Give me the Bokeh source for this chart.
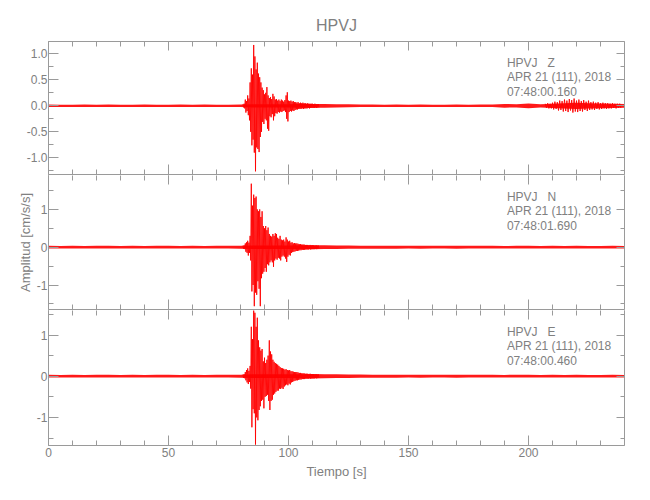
from bokeh.plotting import figure
from bokeh.layouts import column
from bokeh.models import (Range1d, LinearAxis, SingleIntervalTicker, Label,
                          PrintfTickFormatter, BasicTickFormatter)
from bokeh.embed import file_html
from bokeh.resources import INLINE

# ---------------- data ----------------
station = "HPVJ"
components = ["Z", "N", "E"]
date_text = "APR 21 (111), 2018"
start_times = ["07:48:00.160", "07:48:01.690", "07:48:00.460"]
x_axis_label = "Tiempo [s]"
y_axis_label = "Amplitud [cm/s/s]"

# background noise half-width, every 5 s from 0 to 240 s
noise_t = [0, 5, 10, 15, 20, 25, 30, 35, 40, 45, 50, 55, 60, 65, 70, 75, 80, 85, 90, 95,
           100, 105, 110, 115, 120, 125, 130, 135, 140, 145, 150, 155, 160, 165, 170, 175,
           180, 185, 190, 195, 200, 205, 210, 215, 220, 225, 230, 235, 240]
z_noise = [0.025, 0.022, 0.022, 0.025, 0.022, 0.025, 0.022, 0.022, 0.025, 0.022,
           0.022, 0.025, 0.022, 0.025, 0.022, 0.022, 0.025, 0.03, 0.03, 0.03,
           0.03, 0.035, 0.035, 0.035, 0.03, 0.028, 0.025, 0.025, 0.022, 0.025,
           0.022, 0.025, 0.022, 0.022, 0.025, 0.022, 0.025, 0.025, 0.035, 0.03,
           0.045, 0.03, 0.04, 0.05, 0.06, 0.05, 0.045, 0.04, 0.035]
n_noise = [0.036, 0.034, 0.036, 0.034, 0.036, 0.036, 0.034, 0.036, 0.034, 0.036,
           0.036, 0.034, 0.036, 0.034, 0.036, 0.036, 0.038, 0.045, 0.045, 0.045,
           0.045, 0.05, 0.055, 0.05, 0.045, 0.042, 0.04, 0.04, 0.038, 0.038,
           0.036, 0.038, 0.036, 0.036, 0.038, 0.036, 0.036, 0.036, 0.034, 0.036,
           0.036, 0.034, 0.036, 0.034, 0.036, 0.034, 0.034, 0.036, 0.034]
e_noise = [0.034, 0.032, 0.034, 0.032, 0.034, 0.034, 0.032, 0.034, 0.032, 0.034,
           0.034, 0.032, 0.034, 0.032, 0.034, 0.034, 0.036, 0.045, 0.045, 0.045,
           0.045, 0.05, 0.055, 0.05, 0.045, 0.042, 0.04, 0.038, 0.036, 0.036,
           0.034, 0.036, 0.034, 0.034, 0.036, 0.034, 0.034, 0.034, 0.032, 0.034,
           0.034, 0.032, 0.034, 0.032, 0.034, 0.032, 0.032, 0.034, 0.032]

# event window: extremes every 0.5 s
event_t = [81.0, 81.5, 82.0, 82.5, 83.0, 83.5, 84.0, 84.5, 85.0, 85.5,
           86.0, 86.5, 87.0, 87.5, 88.0, 88.5, 89.0, 89.5, 90.0, 90.5,
           91.0, 91.5, 92.0, 92.5, 93.0, 93.5, 94.0, 94.5, 95.0, 95.5,
           96.0, 96.5, 97.0, 97.5, 98.0, 98.5, 99.0, 99.5, 100.0, 100.5,
           101.0, 101.5, 102.0, 102.5, 103.0, 103.5, 104.0, 104.5, 105.0, 105.5,
           106.0, 106.5, 107.0, 107.5, 108.0, 108.5, 109.0, 109.5, 110.0, 110.5,
           111.0, 111.5, 112.0, 112.5]
z_max = [0.03, 0.04, 0.12, 0.09, 0.2, 0.14, 0.45, 0.72, 0.6, 1.17,
         0.95, 0.7, 0.83, 0.62, 0.55, 0.45, 0.35, 0.3, 0.22, 0.25,
         0.36, 0.2, 0.15, 0.17, 0.13, 0.23, 0.18, 0.12, 0.13, 0.1,
         0.12, 0.09, 0.12, 0.1, 0.08, 0.11, 0.2, 0.26, 0.1, 0.09,
         0.1, 0.08, 0.09, 0.07, 0.07, 0.06, 0.07, 0.05, 0.06, 0.05,
         0.06, 0.05, 0.05, 0.04, 0.05, 0.04, 0.04, 0.04, 0.04, 0.03,
         0.04, 0.03, 0.03, 0.03]
z_min = [-0.03, -0.05, -0.13, -0.1, -0.18, -0.28, -0.5, -0.76, -0.65, -0.9,
         -1.26, -0.8, -0.83, -0.89, -0.6, -0.5, -0.31, -0.35, -0.25, -0.28,
         -0.44, -0.48, -0.2, -0.22, -0.16, -0.28, -0.2, -0.14, -0.15, -0.12,
         -0.13, -0.11, -0.12, -0.1, -0.09, -0.12, -0.25, -0.3, -0.12, -0.1,
         -0.11, -0.09, -0.1, -0.08, -0.07, -0.07, -0.06, -0.06, -0.06, -0.05,
         -0.06, -0.05, -0.05, -0.05, -0.04, -0.05, -0.04, -0.04, -0.04, -0.04,
         -0.03, -0.04, -0.03, -0.03]
n_max = [0.04, 0.05, 0.1, 0.13, 0.17, 0.12, 0.3, 1.68, 1.1, 1.39,
         1.3, 1.34, 1.0, 0.95, 1.0, 0.8, 0.95, 0.56, 0.5, 0.56,
         0.45, 0.52, 0.35, 0.3, 0.28, 0.35, 0.3, 0.37, 0.35, 0.25,
         0.22, 0.3, 0.2, 0.18, 0.2, 0.15, 0.26, 0.2, 0.15, 0.17,
         0.12, 0.13, 0.1, 0.11, 0.1, 0.1, 0.09, 0.08, 0.08, 0.07,
         0.07, 0.07, 0.06, 0.06, 0.06, 0.05, 0.06, 0.05, 0.05, 0.05,
         0.04, 0.05, 0.04, 0.04]
n_min = [-0.04, -0.05, -0.12, -0.15, -0.22, -0.15, -0.35, -1.17, -1.0, -1.56,
         -1.2, -1.26, -0.9, -1.1, -1.56, -0.82, -0.7, -0.65, -0.55, -0.65,
         -0.45, -0.48, -0.4, -0.35, -0.4, -0.52, -0.35, -0.3, -0.33, -0.28,
         -0.3, -0.35, -0.25, -0.22, -0.25, -0.3, -0.39, -0.25, -0.2, -0.22,
         -0.15, -0.13, -0.12, -0.11, -0.1, -0.1, -0.09, -0.08, -0.08, -0.07,
         -0.07, -0.07, -0.06, -0.06, -0.06, -0.05, -0.06, -0.05, -0.05, -0.05,
         -0.04, -0.05, -0.04, -0.04]
e_max = [0.04, 0.05, 0.1, 0.15, 0.19, 0.13, 0.25, 1.2, 0.9, 1.6,
         1.54, 1.2, 1.42, 0.87, 0.7, 0.62, 0.66, 0.36, 0.45, 0.32,
         0.4, 0.5, 0.87, 0.6, 0.53, 0.4, 0.35, 0.32, 0.3, 0.28,
         0.25, 0.22, 0.2, 0.19, 0.18, 0.16, 0.17, 0.15, 0.14, 0.15,
         0.12, 0.12, 0.11, 0.1, 0.1, 0.1, 0.09, 0.08, 0.08, 0.07,
         0.07, 0.07, 0.06, 0.06, 0.06, 0.05, 0.06, 0.05, 0.05, 0.05,
         0.04, 0.05, 0.04, 0.04]
e_min = [-0.04, -0.05, -0.1, -0.15, -0.19, -0.14, -0.3, -1.24, -0.8, -0.9,
         -1.66, -1.0, -1.07, -0.82, -0.73, -0.6, -0.57, -0.78, -0.5, -0.48,
         -0.45, -0.6, -0.82, -0.6, -0.57, -0.45, -0.42, -0.38, -0.35, -0.35,
         -0.3, -0.31, -0.28, -0.31, -0.25, -0.22, -0.2, -0.22, -0.18, -0.2,
         -0.15, -0.14, -0.12, -0.11, -0.1, -0.1, -0.09, -0.08, -0.08, -0.07,
         -0.07, -0.07, -0.06, -0.06, -0.06, -0.05, -0.06, -0.05, -0.05, -0.05,
         -0.04, -0.05, -0.04, -0.04]

# late arrival on the Z component, extremes every 1 s
z_coda_t = [207, 208, 209, 210, 211, 212, 213, 214, 215, 216, 217, 218, 219, 220, 221, 222,
            223, 224, 225, 226, 227, 228, 229, 230, 231, 232, 233, 234, 235, 236, 237, 238]
z_coda_max = [0.04, 0.05, 0.04, 0.06, 0.08, 0.07, 0.1, 0.09, 0.12, 0.1,
              0.13, 0.11, 0.14, 0.1, 0.12, 0.09, 0.11, 0.08, 0.1, 0.07,
              0.08, 0.06, 0.07, 0.05, 0.06, 0.05, 0.05, 0.04, 0.05, 0.04, 0.04, 0.04]
z_coda_min = [-0.04, -0.05, -0.05, -0.07, -0.06, -0.09, -0.08, -0.11, -0.1, -0.12,
              -0.09, -0.13, -0.11, -0.12, -0.1, -0.11, -0.08, -0.1, -0.08, -0.07,
              -0.08, -0.06, -0.07, -0.06, -0.05, -0.06, -0.05, -0.05, -0.04, -0.05, -0.04, -0.04]

x_limits = (0, 240)
y_ranges = [(-1.321, 1.237), (-1.648, 1.897), (-1.682, 1.595)]
y_intervals = [0.5, 1.0, 1.0]
y_formats = ["%.1f", "%d", "%d"]

# ---------------- styling ----------------
FONT = "'Liberation Sans', sans-serif"
AX = "#9a9a9a"
TXT = "#808080"
RED = "#ff0000"
FW = 576
FHS = [133, 134, 135]


def zigzag(t, hi, lo, dt):
    xs, ys = [], []
    for ti, h, l in zip(t, hi, lo):
        xs += [ti, ti + dt / 2.0]
        ys += [h, l]
    return xs, ys


def style_axis(ax, show_labels, major=10, minor=5, line=True):
    ax.axis_line_color = AX if line else None
    ax.major_tick_line_color = AX
    ax.minor_tick_line_color = AX
    ax.major_tick_in = major
    ax.major_tick_out = 0
    ax.minor_tick_in = minor
    ax.minor_tick_out = 0
    ax.major_label_text_font = FONT
    ax.major_label_text_font_size = "12px"
    if show_labels:
        ax.major_label_text_color = TXT
        ax.major_label_standoff = 1
    else:
        ax.major_label_text_color = None
        ax.major_label_standoff = 0
    ax.axis_label_text_color = TXT
    ax.axis_label_text_font = FONT
    ax.axis_label_text_font_style = "normal"
    ax.axis_label_text_font_size = "13px"


x_range = Range1d(*x_limits)
noises = [z_noise, n_noise, e_noise]
maxes = [z_max, n_max, e_max]
mins = [z_min, n_min, e_min]

figs = []
for i in range(3):
    y0, y1 = y_ranges[i]
    fh = FHS[i]
    p = figure(frame_width=FW, frame_height=fh, x_range=x_range, y_range=Range1d(y0, y1),
               output_backend="svg", toolbar_location=None,
               x_axis_location=None, y_axis_location=None,
               min_border_left=48, min_border_right=4,
               min_border_top=41 if i == 0 else 0,
               min_border_bottom=44 if i == 2 else 1)
    p.grid.visible = False
    p.outline_line_color = None
    p.background_fill_color = "white"
    p.border_fill_color = "white"

    bottom_ax = LinearAxis(ticker=SingleIntervalTicker(interval=50, num_minor_ticks=5),
                           formatter=BasicTickFormatter())
    top_ax = LinearAxis(ticker=SingleIntervalTicker(interval=50, num_minor_ticks=5))
    left_ax = LinearAxis(ticker=SingleIntervalTicker(interval=y_intervals[i], num_minor_ticks=2),
                         formatter=PrintfTickFormatter(format=y_formats[i]))
    right_ax = LinearAxis(ticker=SingleIntervalTicker(interval=y_intervals[i], num_minor_ticks=2))
    style_axis(bottom_ax, i == 2)
    style_axis(top_ax, False, major=9, minor=5, line=(i == 0))
    style_axis(left_ax, True)
    style_axis(right_ax, False, major=8, minor=4)
    if i == 2:
        bottom_ax.major_label_standoff = 2
        bottom_ax.axis_label = x_axis_label
        bottom_ax.axis_label_standoff = 4
    if i == 1:
        left_ax.axis_label = y_axis_label
        left_ax.axis_label_standoff = 1
    p.add_layout(bottom_ax, "below")
    p.add_layout(left_ax, "left")
    p.add_layout(top_ax, "above")
    p.add_layout(right_ax, "right")

    nz = noises[i]
    p.varea(x=noise_t, y1=[-a for a in nz], y2=nz, fill_color=RED, fill_alpha=0.9)
    ex, ey = zigzag(event_t, maxes[i], mins[i], 0.5)
    p.line(ex, ey, line_color=RED, line_width=1, line_alpha=0.9)
    if i == 0:
        cx, cy = zigzag(z_coda_t, z_coda_max, z_coda_min, 1.0)
        p.line(cx, cy, line_color=RED, line_width=1, line_alpha=0.9)

    lines = [station + "\u00a0\u00a0\u00a0" + components[i], date_text, start_times[i]]
    for k, off in enumerate([21.0, 35.5, 50.5]):
        yy = y1 - off * (y1 - y0) / fh
        p.add_layout(Label(x=191, y=yy, text=lines[k], text_font=FONT,
                           text_font_size="12px", text_color=TXT,
                           text_baseline="middle", text_align="left"))

    if i == 0:
        p.title.text = station
        p.title.align = "center"
        p.title.text_font = FONT
        p.title.text_font_size = "16px"
        p.title.text_font_style = "normal"
        p.title.text_color = TXT
        p.title.standoff = 16
    figs.append(p)

layout = column(*figs, spacing=0)
open("out.html", "w").write(file_html(layout, INLINE))
